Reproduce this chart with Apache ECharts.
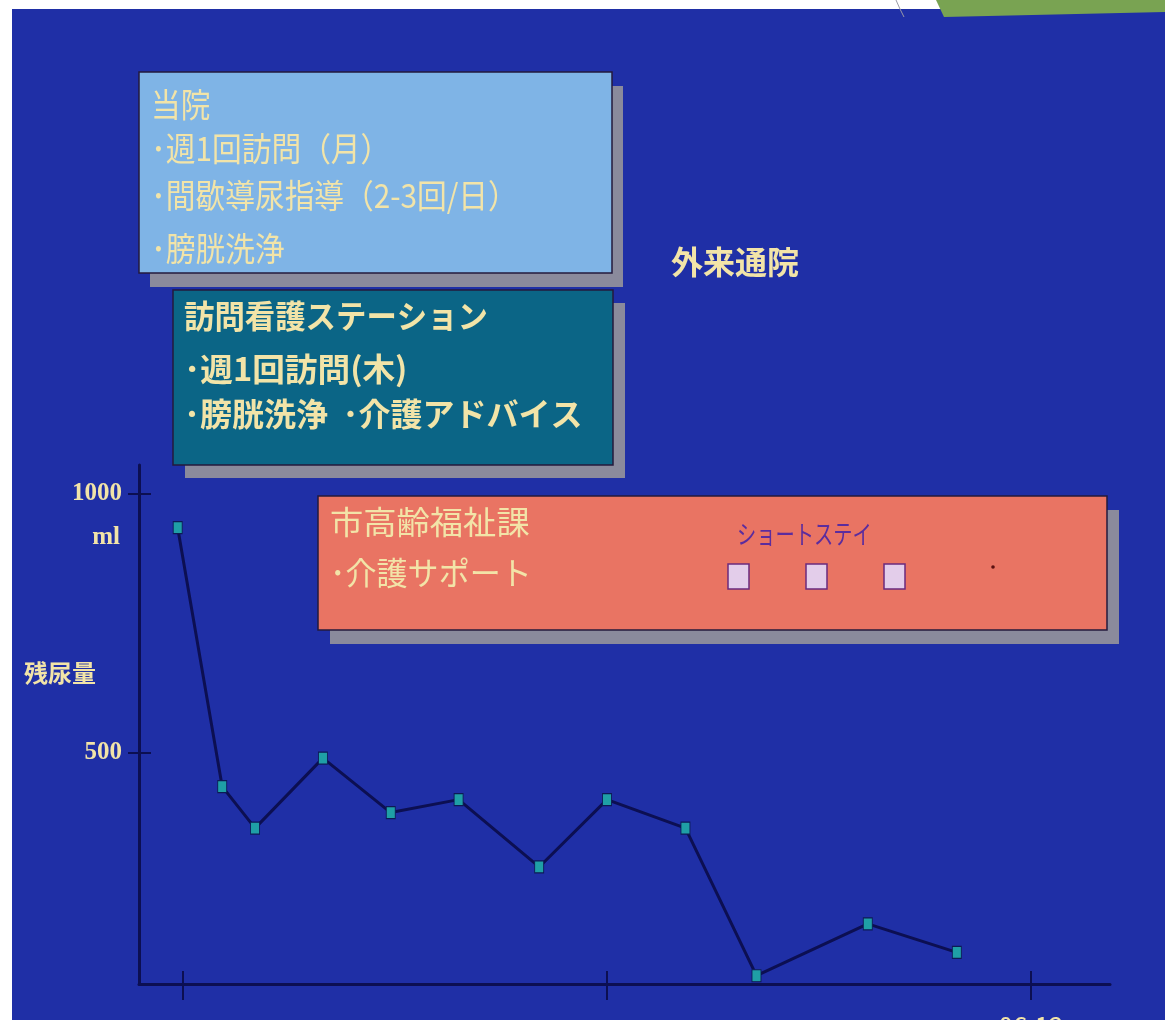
<!DOCTYPE html>
<html>
<head>
<meta charset="utf-8">
<style>
  html, body { margin: 0; padding: 0; background: #ffffff; }
  #chart { width: 1165px; height: 1020px; }
</style>
<script src="https://cdn.jsdelivr.net/npm/echarts@6/dist/echarts.min.js"></script>
</head>
<body>
<div id="chart"></div>
<script>
// Residual urine volume (ml) over time; x values are months of 2006
const visitMonths = [3.95, 4.37, 4.68, 5.32, 5.96, 6.60, 7.36, 8.00, 8.74, 9.41, 10.46, 11.30];
const residualMl  = [935, 435, 355, 490, 385, 410, 280, 410, 355, 70, 170, 115];

const yTickValues = [500, 1000];
const xTickValues = [4, 8, 12];
const xLabelValues = [12];
const xLabelText = { 12: '06.12' };

const hospitalLines = ['当院', '･週1回訪問（月）', '･間歇導尿指導（2-3回/日）', '･膀胱洗浄'];
const nursingLines  = ['訪問看護ステーション', '･週1回訪問(木)', '･膀胱洗浄  ･介護アドバイス'];
const cityLines     = ['市高齢福祉課', '･介護サポート'];
const shortStayLabel = 'ショートステイ';
const outpatientLabel = '外来通院';
const yAxisTitle = '残尿量';
const yUnit = 'ml';

const CJK = '"Noto Sans CJK JP", "Noto Sans", sans-serif';
const SERIF = '"Liberation Serif", "DejaVu Serif", serif';
const CREAM = '#f2e4a8';
const AXIS = '#0c0f52';

function textEl(str, x, y, size, opts) {
  opts = opts || {};
  return {
    type: 'text', x: x, y: y, z: 20,
    scaleX: opts.scaleX || 1, scaleY: 1,
    style: {
      text: str, x: 0, y: 0,
      fill: opts.fill || CREAM,
      fontSize: size,
      fontFamily: opts.family || CJK,
      fontWeight: opts.weight || 'normal',
      align: opts.align || 'left',
      verticalAlign: 'middle'
    }
  };
}

function boxEl(x, y, w, h, fill, dx, dy) {
  return [
    { type: 'rect', z: 10, shape: { x: x + dx, y: y + dy, width: w, height: h },
      style: { fill: '#8a8a9c' } },
    { type: 'rect', z: 11, shape: { x: x, y: y, width: w, height: h },
      style: { fill: fill, stroke: '#241a3c', lineWidth: 1.5 } }
  ];
}

const graphics = [];
// slide background
graphics.push({ type: 'rect', z: -20, shape: { x: 12, y: 9, width: 1153, height: 1011 },
  style: { fill: '#1f2fa6' } });
graphics.push({ type: 'polygon', z: -19, shape: { points: [[936, 0], [1165, 0], [1165, 12], [944, 17]] },
  style: { fill: '#79a352' } });
graphics.push({ type: 'polyline', z: -19, shape: { points: [[896, 0], [900, 9], [904, 17]] },
  style: { stroke: '#9a9aa6', lineWidth: 1 } });

// hospital box
graphics.push(...boxEl(139, 72, 473, 201, '#7fb4e6', 11, 14));
const hospY = [104, 148, 195, 248];
hospitalLines.forEach((s, i) => graphics.push(textEl(s, 151, hospY[i], 33, { scaleX: 0.9 })));

// visiting nurse station box
graphics.push(...boxEl(173, 290, 440, 175, '#0b6586', 12, 13));
const nurseY = [316, 369, 414];
const nurseScale = [0.95, 1.02, 1.0];
nursingLines.forEach((s, i) => graphics.push(textEl(s, 184, nurseY[i], 32, { scaleX: nurseScale[i], weight: 'bold' })));

// city welfare box
graphics.push(...boxEl(318, 496, 789, 134, '#e97463', 12, 14));
const cityY = [522, 573];
const cityScale = [1.04, 0.97];
cityLines.forEach((s, i) => graphics.push(textEl(s, 330, cityY[i], 32, { scaleX: cityScale[i] })));
graphics.push(textEl(shortStayLabel, 737, 534, 26, { scaleX: 0.74, fill: '#5b2c9e' }));
[728, 806, 884].forEach(x => graphics.push({
  type: 'rect', z: 21, shape: { x: x, y: 564, width: 21, height: 25 },
  style: { fill: '#e3cdea', stroke: '#6b2a7e', lineWidth: 1.5 }
}));
graphics.push({ type: 'circle', z: 21, shape: { cx: 993, cy: 567, r: 1.8 }, style: { fill: '#5a1010' } });

graphics.push(textEl(outpatientLabel, 671, 262, 32, { weight: 'bold' }));
graphics.push(textEl(yAxisTitle, 24, 673, 24, { weight: 'bold' }));
graphics.push(textEl(yUnit, 120, 538, 25, { family: SERIF, align: 'right', weight: 'bold' }));

const chart = echarts.init(document.getElementById('chart'), null, { renderer: 'canvas' });

const yMin = 54, yMax = 1056;
const xMin = 3.585, xMax = 12.745;

chart.setOption({
  animation: false,
  backgroundColor: 'transparent',
  grid: { left: 139, right: 55, top: 465, bottom: 36, containLabel: false, outerBoundsMode: 'none' },
  xAxis: [
    {
      type: 'value', min: xMin, max: xMax, position: 'bottom',
      axisLine: { show: true, onZero: false, lineStyle: { color: AXIS, width: 3 } },
      axisTick: { show: true, customValues: xTickValues, length: 16, lineStyle: { color: AXIS, width: 2 } },
      axisLabel: {
        show: true, customValues: xLabelValues, margin: 29,
        formatter: v => xLabelText[v] || '',
        color: CREAM, fontSize: 26, fontFamily: CJK
      },
      splitLine: { show: false }
    },
    {
      type: 'value', min: xMin, max: xMax, position: 'bottom',
      axisLine: { show: false, onZero: false },
      axisTick: { show: true, inside: true, customValues: xTickValues, length: 13, lineStyle: { color: AXIS, width: 2 } },
      axisLabel: { show: false },
      splitLine: { show: false }
    }
  ],
  yAxis: [
    {
      type: 'value', min: yMin, max: yMax, position: 'left',
      axisLine: { show: true, onZero: false, lineStyle: { color: AXIS, width: 3 } },
      axisTick: { show: true, customValues: yTickValues, length: 11, lineStyle: { color: AXIS, width: 2 } },
      axisLabel: {
        show: true, customValues: yTickValues, margin: 17,
        formatter: v => String(v),
        color: CREAM, fontSize: 25, fontFamily: SERIF, fontWeight: 'bold'
      },
      splitLine: { show: false }
    },
    {
      type: 'value', min: yMin, max: yMax, position: 'left',
      axisLine: { show: false, onZero: false },
      axisTick: { show: true, inside: true, customValues: yTickValues, length: 12, lineStyle: { color: AXIS, width: 2 } },
      axisLabel: { show: false },
      splitLine: { show: false }
    }
  ],
  series: [{
    type: 'line',
    xAxisIndex: 0, yAxisIndex: 0,
    data: visitMonths.map((m, i) => [m, residualMl[i]]),
    lineStyle: { color: AXIS, width: 3 },
    symbol: 'rect', symbolSize: [9, 12],
    itemStyle: { color: '#1f9fa6', borderColor: '#0c1a55', borderWidth: 1 },
    z: 5
  }],
  graphic: { elements: graphics }
});
</script>
</body>
</html>
